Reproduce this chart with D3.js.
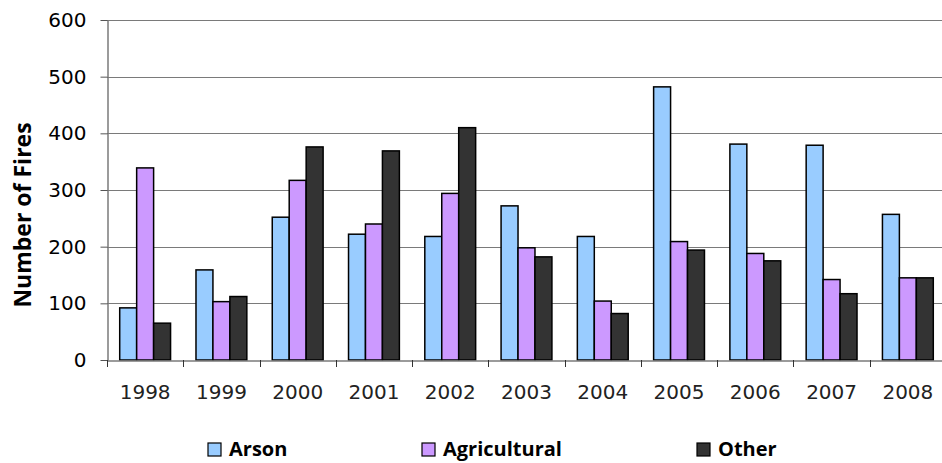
<!DOCTYPE html>
<html>
<head>
<meta charset="utf-8">
<script src="https://cdn.jsdelivr.net/npm/d3@7"></script>
<style>
  body { margin: 0; background: #fff; }
  svg { display: block; }
</style>
</head>
<body>
<svg id="chart"></svg>
<script>
// data
const years = ['1998', '1999', '2000', '2001', '2002', '2003', '2004', '2005', '2006', '2007', '2008'];
const seriesNames = ['Arson', 'Agricultural', 'Other'];
const arson = [92, 159, 252, 222, 218, 272, 218, 482, 381, 379, 257];
const agricultural = [339, 103, 317, 240, 294, 198, 104, 209, 188, 142, 145];
const other = [65, 112, 376, 369, 410, 182, 82, 194, 175, 117, 145];
const yTicks = [0, 100, 200, 300, 400, 500, 600];
const colors = ['#99ccff', '#cc99ff', '#333333'];

const W = 942, H = 463;
const plotLeft = 107, plotRight = 946, plotTop = 20, plotBottom = 360;

const svg = d3.select('#chart').attr('width', W).attr('height', H);

const rows = years.map((y, i) => ({ year: y, vals: [arson[i], agricultural[i], other[i]] }));

const x0 = d3.scaleBand().domain(years).range([plotLeft, plotRight]).padding(0);
const inset = x0.bandwidth() / 6;
const x1 = d3.scaleBand().domain(seriesNames).range([inset, x0.bandwidth() - inset]).padding(0);
const y = d3.scaleLinear().domain([0, 600]).range([plotBottom, plotTop]);

// grid lines
svg.append('g')
    .selectAll('line')
    .data(yTicks.filter(d => d > 0))
    .enter()
    .append('line')
    .attr('x1', plotLeft).attr('x2', plotRight)
    .attr('y1', d => Math.round(y(d)) + 0.5)
    .attr('y2', d => Math.round(y(d)) + 0.5)
    .attr('stroke', '#7a7a7a')
    .attr('stroke-width', 1.2);

// bars
const groups = svg.append('g')
    .selectAll('g')
    .data(rows)
    .enter()
    .append('g')
    .attr('transform', d => `translate(${x0(d.year)},0)`);

groups.selectAll('rect')
    .data(d => d.vals.map((v, k) => ({ key: seriesNames[k], v: v, k: k })))
    .enter()
    .append('rect')
    .attr('x', d => x1(d.key))
    .attr('y', d => y(d.v))
    .attr('width', x1.bandwidth())
    .attr('height', d => plotBottom - y(d.v))
    .attr('fill', d => colors[d.k])
    .attr('stroke', '#000')
    .attr('stroke-width', 1.5);

// y axis
const yAxis = svg.append('g')
    .attr('transform', `translate(${plotLeft + 0.5},0)`)
    .call(d3.axisLeft(y).tickValues(yTicks).tickSize(7).tickPadding(14).tickSizeOuter(0));
yAxis.select('.domain').attr('stroke', '#7a7a7a').attr('stroke-width', 1.5);
yAxis.selectAll('.tick line').attr('stroke', '#555');
yAxis.selectAll('.tick text')
    .style('font-family', 'DejaVu Sans')
    .style('font-size', '20px')
    .attr('fill', '#000');

// x axis
const xAxis = svg.append('g')
    .attr('transform', `translate(0,${plotBottom + 0.5})`)
    .call(d3.axisBottom(x0).tickSize(0).tickPadding(24).tickSizeOuter(0));
xAxis.select('.domain').attr('stroke', '#7a7a7a').attr('stroke-width', 1.5);
xAxis.selectAll('.tick text')
    .style('font-family', 'DejaVu Sans')
    .style('font-size', '20px')
    .attr('fill', '#222');

// category boundary ticks
svg.append('g')
    .selectAll('line')
    .data(years)
    .enter()
    .append('line')
    .attr('x1', d => Math.round(x0(d)) + 0.5)
    .attr('x2', d => Math.round(x0(d)) + 0.5)
    .attr('y1', plotBottom)
    .attr('y2', plotBottom + 7)
    .attr('stroke', '#333');

// y title
svg.append('text')
    .attr('transform', 'translate(31,215) rotate(-90)')
    .attr('text-anchor', 'middle')
    .style('font-family', 'Open Sans')
    .style('font-weight', 'bold')
    .style('font-size', '23px')
    .text('Number of Fires');

// legend
const legendX = [208, 422, 697];
const legend = svg.append('g')
    .selectAll('g')
    .data(seriesNames)
    .enter()
    .append('g')
    .attr('transform', (d, i) => `translate(${legendX[i]},443)`);
legend.append('rect')
    .attr('width', 13).attr('height', 13)
    .attr('fill', (d, i) => colors[i])
    .attr('stroke', '#000')
    .attr('stroke-width', 1.2);
legend.append('text')
    .attr('x', 21)
    .attr('y', 13)
    .style('font-family', 'Open Sans')
    .style('font-weight', 'bold')
    .style('font-size', '20px')
    .text(d => d);
</script>
</body>
</html>
